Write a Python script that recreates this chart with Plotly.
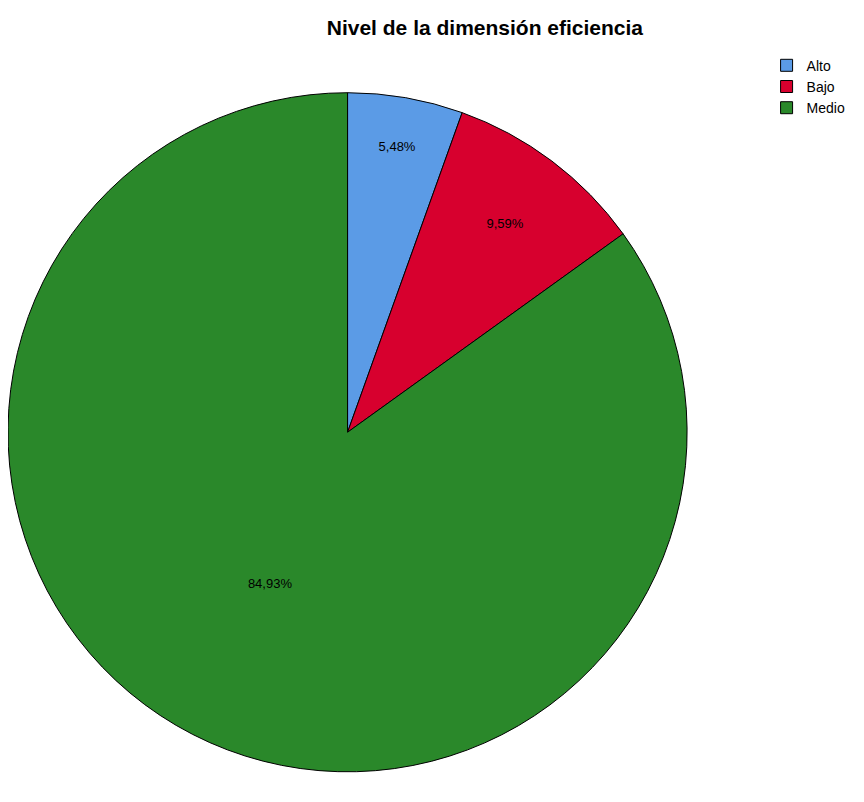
import plotly.graph_objects as go

categories = ["Alto", "Bajo", "Medio"]
counts = [4, 7, 62]
colors = ["#5b9be6", "#d7002e", "#2a882a"]

fig = go.Figure(go.Pie(
    labels=categories,
    values=counts,
    marker=dict(colors=colors, line=dict(color="black", width=1)),
    sort=False,
    direction="clockwise",
    rotation=0,
    textinfo="percent",
    texttemplate="%{percent:.2%}",
    textposition="inside",
    insidetextorientation="horizontal",
    textfont=dict(family="Liberation Sans, Arial, sans-serif", size=13, color="black"),
    domain=dict(x=[0.0, 0.786], y=[0.047, 0.895]),
))

fig.update_layout(
    width=864, height=802,
    separators=",.",
    paper_bgcolor="white", plot_bgcolor="white",
    margin=dict(l=0, r=0, t=0, b=0),
    title=dict(text="<b>Nivel de la dimensión eficiencia</b>", x=0.552, xanchor="center",
               y=0.975, yanchor="middle",
               font=dict(family="Liberation Sans, Arial, sans-serif", size=21, color="black")),
    legend=dict(x=0.878, y=0.948, xanchor="left", yanchor="top",
                font=dict(family="Liberation Sans, Arial, sans-serif", size=14, color="black"),
                itemwidth=30, tracegroupgap=0, bgcolor="rgba(0,0,0,0)"),
    showlegend=True,
)

fig.write_html("out.html")
